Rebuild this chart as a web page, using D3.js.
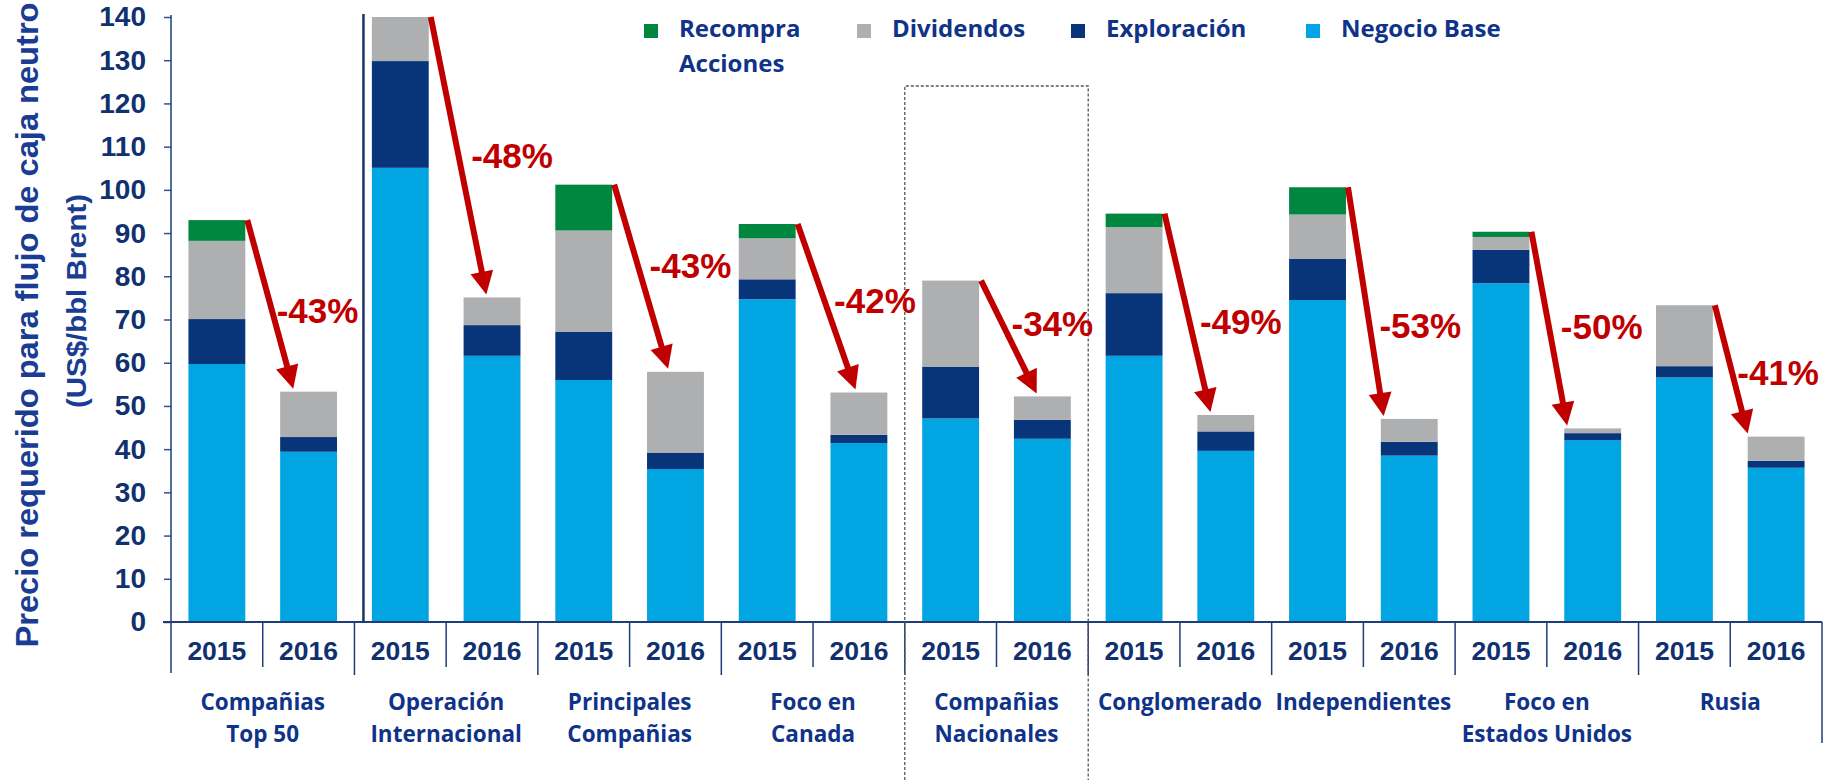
<!DOCTYPE html>
<html>
<head>
<meta charset="utf-8">
<script src="https://cdn.jsdelivr.net/npm/d3@7"></script>
<style>
  body { margin: 0; background: #fff; }
  svg { display: block; }
</style>
</head>
<body>
<svg id="chart"></svg>
<script>
// data (US$/bbl Brent)
const groups = [
  ["Compañias", "Top 50"],
  ["Operación", "Internacional"],
  ["Principales", "Compañias"],
  ["Foco en", "Canada"],
  ["Compañias", "Nacionales"],
  ["Conglomerado"],
  ["Independientes"],
  ["Foco en", "Estados Unidos"],
  ["Rusia"]
];
const years = ["2015", "2016"];
const negocioBase = [59.7, 39.4, 105.1, 61.6, 56.0, 35.4, 74.7, 41.4, 47.1, 42.4, 61.6, 39.6, 74.5, 38.5, 78.4, 42.1, 56.6, 35.7];
const exploracion = [10.4, 3.4, 24.7, 7.1, 11.2, 3.8, 4.6, 1.9, 12.0, 4.4, 14.5, 4.5, 9.5, 3.2, 7.7, 1.6, 2.6, 1.6];
const dividendos  = [18.1, 10.5, 14.0, 6.4, 23.4, 18.7, 9.5, 9.8, 19.9, 5.4, 15.3, 3.8, 10.3, 5.3, 3.0, 1.1, 14.1, 5.6];
const recompra    = [4.8, 0, 0, 0, 10.6, 0, 3.3, 0, 0, 0, 3.1, 0, 6.3, 0, 1.2, 0, 0, 0];
const changes = ["-43%", "-48%", "-43%", "-42%", "-34%", "-49%", "-53%", "-50%", "-41%"];
const yTicks = d3.range(0, 141, 10);

// styling
const keys = ["Negocio Base", "Exploración", "Dividendos", "Recompra"];
const colors = ["#00a5e1", "#08357a", "#aeafb1", "#00873f"];
const navy = "#10306f";
const blueText = "#0f3389";
const red = "#c00000";
const arrowTip = [0.23, 0.4, 0.37, 0.44, 0.4, 0.23, 0.05, 0.05, 0.0];
const labelDx = [14, 25, 20, 21, 15, 20, 16, 14, 7];
const labelDy = [19, 12, 1, 6, -1, 21, 36, 10, 16];

const W = 1831, H = 780;
const margin = { top: 17, right: 9, bottom: 158, left: 171 };
const svg = d3.select("#chart").attr("width", W).attr("height", H);

const rows = negocioBase.map((v, i) => ({
  i, group: Math.floor(i / 2), year: years[i % 2],
  "Negocio Base": v, "Exploración": exploracion[i], "Dividendos": dividendos[i], "Recompra": recompra[i]
}));
const series = d3.stack().keys(keys)(rows);
const total = i => negocioBase[i] + exploracion[i] + dividendos[i] + recompra[i];

const x = d3.scaleBand().domain(d3.range(rows.length))
  .range([margin.left, W - margin.right]).paddingInner(0.38).paddingOuter(0.19);
const y = d3.scaleLinear().domain([0, 140]).range([H - margin.bottom, margin.top]).clamp(true);
const step = x.step(), bw = x.bandwidth();
const edge = i => margin.left + i * step;
const y0 = y(0);

// bars
svg.append("g").selectAll("g").data(series).join("g")
  .attr("fill", (d, k) => colors[k])
  .selectAll("rect").data(d => d).join("rect")
  .attr("x", d => x(d.data.i)).attr("width", bw)
  .attr("y", d => y(d[1])).attr("height", d => y(d[0]) - y(d[1]));

// y axis
svg.append("g").attr("transform", `translate(${margin.left},0)`)
  .call(d3.axisLeft(y).tickValues(yTicks).tickSize(7).tickPadding(18))
  .call(g => g.select(".domain").remove())
  .call(g => g.selectAll("line").attr("stroke", "#34508f").attr("stroke-width", 1.5))
  .call(g => g.selectAll("text").attr("font-family", "'Liberation Sans', Arial, sans-serif")
    .attr("font-size", 28).attr("font-weight", "bold").attr("fill", navy));

const lines = svg.append("g").attr("stroke", "#1f3d7a").attr("fill", "none");
lines.append("line").attr("x1", margin.left).attr("x2", margin.left).attr("y1", margin.top - 2).attr("y2", y0 + 51).attr("stroke-width", 1.5);
lines.append("line").attr("x1", margin.left - 8).attr("x2", edge(rows.length)).attr("y1", y0).attr("y2", y0).attr("stroke-width", 2);
// separators under the axis
d3.range(1, rows.length + 1).forEach(i => {
  const len = i === rows.length ? 121 : (i % 2 === 0 ? 53 : 45);
  lines.append("line").attr("x1", edge(i)).attr("x2", edge(i)).attr("y1", y0).attr("y2", y0 + len).attr("stroke-width", 1.5);
});
// divider after the first group
lines.append("line").attr("x1", edge(2) + 9).attr("x2", edge(2) + 9).attr("y1", margin.top - 3).attr("y2", y0)
  .attr("stroke", "#1b3566").attr("stroke-width", 2.5);

// dotted box around Compañias Nacionales
svg.append("path")
  .attr("d", `M${edge(8)},${H}V86H${edge(10)}V${H}`)
  .attr("fill", "none").attr("stroke", "#555").attr("stroke-width", 1.3).attr("stroke-dasharray", "3,2");

// year labels
svg.append("g").selectAll("text").data(rows).join("text")
  .attr("x", d => x(d.i) + bw / 2).attr("y", y0 + 38)
  .attr("text-anchor", "middle")
  .attr("font-family", "'Liberation Sans', Arial, sans-serif").attr("font-size", 26.5).attr("font-weight", "bold")
  .attr("fill", navy).text(d => d.year);

// group labels
const gl = svg.append("g").selectAll("text").data(groups).join("text")
  .attr("text-anchor", "middle")
  .attr("font-family", "'Open Sans', sans-serif").attr("font-size", 22.5).attr("font-weight", 700)
  .attr("fill", blueText);
gl.selectAll("tspan").data((d, g) => d.map(t => ({ t, g }))).join("tspan")
  .attr("x", d => (edge(2 * d.g) + edge(2 * d.g + 2)) / 2)
  .attr("y", (d, k) => 710 + k * 32)
  .text(d => d.t);

// arrows and percentage changes
const arrows = svg.append("g");
groups.forEach((_, g) => {
  const a = 2 * g, b = a + 1;
  const sx = x(a) + bw + 2, sy = y(total(a));
  const tx = x(b) + arrowTip[g] * bw, ty = y(total(b)) - 3;
  const dx = tx - sx, dy = ty - sy, len = Math.hypot(dx, dy);
  const ux = dx / len, uy = dy / len, head = 23, half = 11.5;
  const bx = tx - ux * head, by = ty - uy * head;
  arrows.append("line").attr("x1", sx).attr("y1", sy).attr("x2", bx + ux * 2).attr("y2", by + uy * 2)
    .attr("stroke", red).attr("stroke-width", 6);
  arrows.append("path")
    .attr("d", `M${tx},${ty}L${bx - uy * half},${by + ux * half}L${bx + uy * half},${by - ux * half}Z`)
    .attr("fill", red);
  arrows.append("text")
    .attr("x", edge(b) + labelDx[g]).attr("y", (sy + ty) / 2 + labelDy[g])
    .attr("font-family", "'Liberation Sans', Arial, sans-serif").attr("font-size", 35).attr("font-weight", "bold")
    .attr("fill", red).text(changes[g]);
});

// y axis title
const title = svg.append("g").attr("font-family", "'Liberation Sans', Arial, sans-serif")
  .attr("font-weight", "bold").attr("fill", "#1a3c93").attr("text-anchor", "middle");
title.append("text").attr("transform", "translate(38,325) rotate(-90)")
  .attr("font-size", 32).attr("textLength", 645).attr("lengthAdjust", "spacingAndGlyphs")
  .text("Precio requerido para flujo de caja neutro");
title.append("text").attr("transform", "translate(86,301) rotate(-90)")
  .attr("font-size", 28).attr("textLength", 214).attr("lengthAdjust", "spacingAndGlyphs")
  .text("(US$/bbl Brent)");

// legend
const legendItems = [
  { label: ["Recompra", "Acciones"], color: colors[3], x: 644 },
  { label: ["Dividendos"], color: colors[2], x: 857 },
  { label: ["Exploración"], color: colors[1], x: 1071 },
  { label: ["Negocio Base"], color: colors[0], x: 1306 }
];
const leg = svg.append("g").selectAll("g").data(legendItems).join("g")
  .attr("transform", d => `translate(${d.x},0)`);
leg.append("rect").attr("x", 0).attr("y", 24).attr("width", 14).attr("height", 14).attr("fill", d => d.color);
leg.append("text")
  .attr("font-family", "'Open Sans', sans-serif").attr("font-size", 24).attr("font-weight", 700)
  .attr("fill", blueText)
  .selectAll("tspan").data(d => d.label).join("tspan")
  .attr("x", 35).attr("y", (d, k) => 37 + k * 35).text(d => d);
</script>
</body>
</html>
